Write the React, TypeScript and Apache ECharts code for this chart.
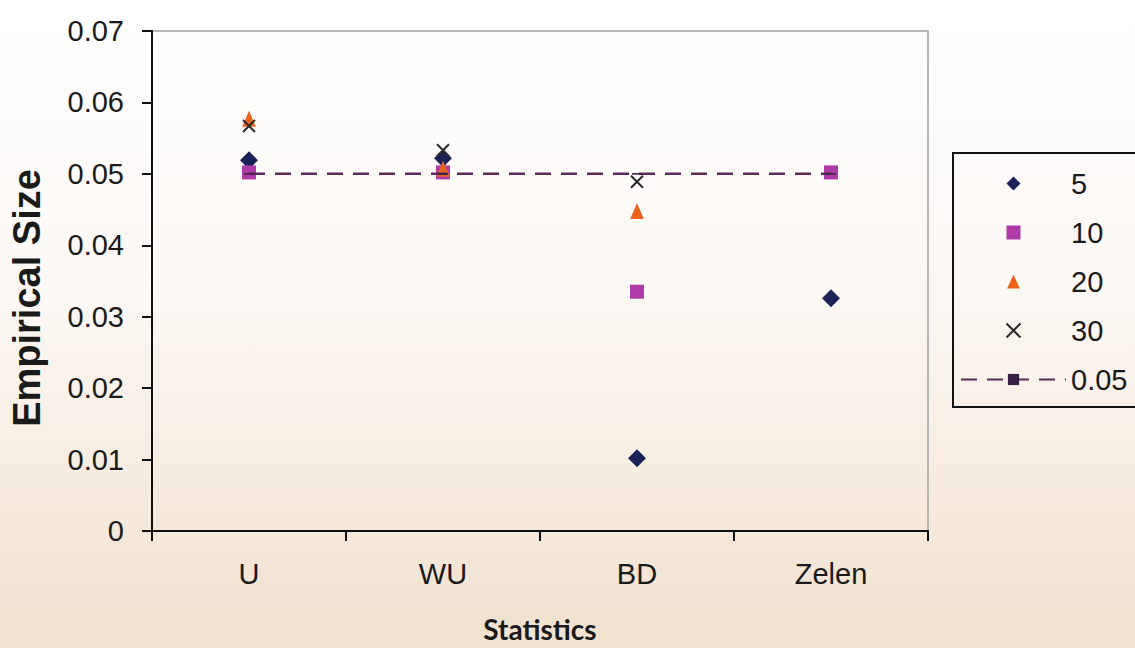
import React, { useEffect, useRef } from "react";
import * as echarts from "echarts";

const categories = ["U", "WU", "BD", "Zelen"];
const seriesNames = ["5", "10", "20", "30", "0.05"];
const size5 = [0.0519, 0.0522, 0.0102, 0.0326];
const size10 = [0.0502, 0.0502, 0.0335, 0.0502];
const size20 = [0.0577, 0.0507, 0.0448, null];
const size30 = [0.0567, 0.0533, 0.0489, null];
const nominal = [0.05, 0.05, 0.05, 0.05];
const yTicks = [0, 0.01, 0.02, 0.03, 0.04, 0.05, 0.06, 0.07];

export default function App() {
  const ref = useRef<HTMLDivElement>(null);
  useEffect(() => {
    document.body.style.margin = "0";
    const chart = echarts.init(ref.current!, null, { renderer: "svg" });
    const font = "Arial, 'Liberation Sans', sans-serif";
    const labelColor = "#1a1a1a";
    chart.setOption({
      animation: false,
      backgroundColor: {
        type: "linear",
        x: 0,
        y: 0,
        x2: 0,
        y2: 1,
        colorStops: [
          { offset: 0, color: "#ffffff" },
          { offset: 0.45, color: "#fcf8f4" },
          { offset: 1, color: "#f1e1cd" },
        ],
      },
      grid: {
        left: 151,
        right: 207,
        top: 31,
        bottom: 115,
        show: true,
        borderColor: "#a0a0a0",
        borderWidth: 1.5,
        backgroundColor: "transparent",
      },
      graphic: [
        {
          type: "rect",
          shape: { x: 953, y: 153, width: 200, height: 254 },
          style: { fill: "transparent", stroke: "#111", lineWidth: 2 },
          silent: true,
        },
      ],
      legend: {
        orient: "vertical",
        left: 955,
        top: 164,
        itemWidth: 105,
        itemHeight: 14,
        itemGap: 20,
        symbolKeepAspect: true,
        data: seriesNames,
        textStyle: { fontFamily: font, fontSize: 29, color: labelColor },
      },
      xAxis: {
        type: "category",
        data: categories,
        boundaryGap: true,
        name: "Statistics",
        nameLocation: "middle",
        nameGap: 84,
        nameTextStyle: { fontFamily: "Lato, Arial, sans-serif", fontWeight: "bold", fontSize: 28, color: labelColor },
        axisLine: { lineStyle: { color: "#111", width: 2 } },
        axisTick: { show: true, length: 10, lineStyle: { color: "#111", width: 2 } },
        axisLabel: { fontFamily: font, fontSize: 29, color: labelColor, margin: 28 },
        splitLine: { show: false },
      },
      yAxis: {
        type: "value",
        min: 0,
        max: 0.07,
        interval: 0.01,
        name: "Empirical Size",
        nameLocation: "middle",
        nameGap: 106,
        nameTextStyle: {
          fontFamily: font,
          fontWeight: "bold",
          fontSize: 38,
          color: labelColor,
          padding: [0, 34, 0, 0],
        },
        axisLine: { show: true, lineStyle: { color: "#111", width: 2 } },
        axisTick: { show: true, length: 10, lineStyle: { color: "#111", width: 2 } },
        axisLabel: {
          fontFamily: font,
          fontSize: 29,
          color: labelColor,
          margin: 28,
          formatter: (v: number) => {
            const t = yTicks.find((k) => Math.abs(k - v) < 1e-9);
            const val = t === undefined ? v : t;
            return val === 0 ? "0" : val.toFixed(2);
          },
        },
        splitLine: { show: false },
      },
      series: [
        {
          name: seriesNames[0],
          type: "scatter",
          data: size5,
          symbol: "path://M5,0L10,5L5,10L0,5Z",
          symbolKeepAspect: true,
          symbolSize: 18,
          itemStyle: { color: "#1b2258", opacity: 1 },
        },
        {
          name: seriesNames[1],
          type: "scatter",
          data: size10,
          symbol: "path://M0,0h10v10h-10z",
          symbolKeepAspect: true,
          symbolSize: 14,
          itemStyle: { color: "#b03aa8", opacity: 1 },
        },
        {
          name: seriesNames[2],
          type: "scatter",
          data: size20,
          symbol: "path://M5,0L10,11L0,11Z",
          symbolKeepAspect: true,
          symbolSize: [15, 16],
          itemStyle: { color: "#e8641a", opacity: 1 },
        },
        {
          name: seriesNames[3],
          type: "scatter",
          data: size30,
          symbol: "path://M0,0L10,10M10,0L0,10",
          symbolKeepAspect: true,
          symbolSize: 12,
          itemStyle: { color: "#2a2a2a", borderColor: "#2a2a2a", borderWidth: 2, opacity: 1 },
        },
        {
          name: seriesNames[4],
          type: "line",
          data: nominal,
          symbol: "path://M0,0h10v4h-10z",
          symbolKeepAspect: true,
          symbolSize: [10, 4],
          showSymbol: true,
          itemStyle: { color: "#3a1f45" },
          lineStyle: { color: "#5a2a58", width: 2.5, type: [16, 10] },
        },
      ],
    });
    return () => chart.dispose();
  }, []);
  return (
    <div
      ref={ref}
      style={{ position: "fixed", left: 0, top: 0, width: 1135, height: 648 }}
    />
  );
}
